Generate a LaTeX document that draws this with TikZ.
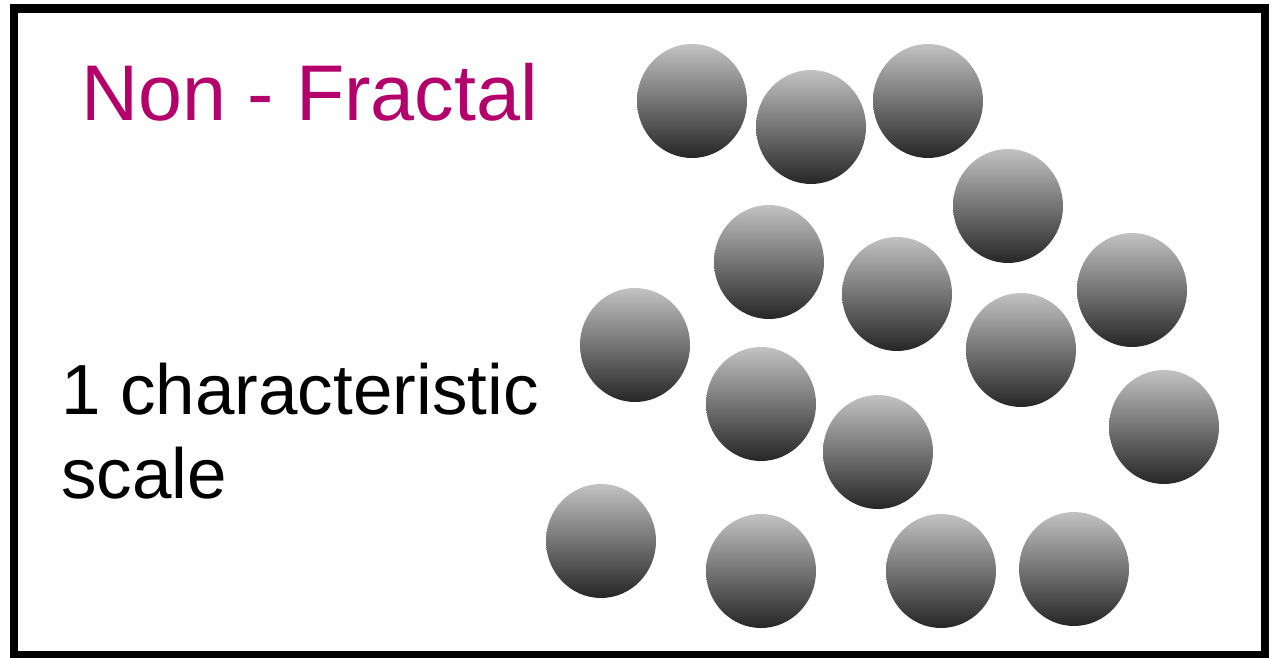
\documentclass[tikz,border=0pt]{standalone}
\usepackage{fontspec}
\setmainfont{Liberation Sans}
\usetikzlibrary{shapes.geometric}
\definecolor{titlemag}{RGB}{180,0,107}
\definecolor{balltop}{RGB}{194,194,194}
\definecolor{ballbot}{RGB}{38,38,38}
\tikzset{
  ball/.style={ellipse, minimum width=110pt, minimum height=114pt, inner sep=0pt,
    top color=balltop, bottom color=ballbot, draw=none},
  frame/.style={draw=black, line width=8.5pt},
  titletext/.style={inner sep=0pt, anchor=base west, text=titlemag,
    font=\fontsize{79}{90}\selectfont},
  bodytext/.style={inner sep=0pt, anchor=north west, align=left, text=black,
    font=\fontsize{71}{84}\selectfont}
}
\begin{document}
\begin{tikzpicture}[x=1pt,y=-1pt]
\useasboundingbox (0,0) rectangle (1275,658);
\draw[frame] (14,8.5) rectangle (1265,655);
\node[titletext] (title) at (81,121) {Non - Fractal};
\node[bodytext] (scale) at (61,363) {1 characteristic\\scale};
\node[ball] (b1) at (692,101) {};
\node[ball] (b2) at (811,127) {};
\node[ball] (b3) at (928,101) {};
\node[ball] (b4) at (1008,206) {};
\node[ball] (b5) at (769,262) {};
\node[ball] (b6) at (897,294) {};
\node[ball] (b7) at (1132,290) {};
\node[ball] (b8) at (635,345) {};
\node[ball] (b9) at (1021,350) {};
\node[ball] (b10) at (761,404) {};
\node[ball] (b11) at (878,452) {};
\node[ball] (b12) at (1164,427) {};
\node[ball] (b13) at (601,541) {};
\node[ball] (b14) at (761,571) {};
\node[ball] (b15) at (941,571) {};
\node[ball] (b16) at (1074,569) {};
\end{tikzpicture}
\end{document}
